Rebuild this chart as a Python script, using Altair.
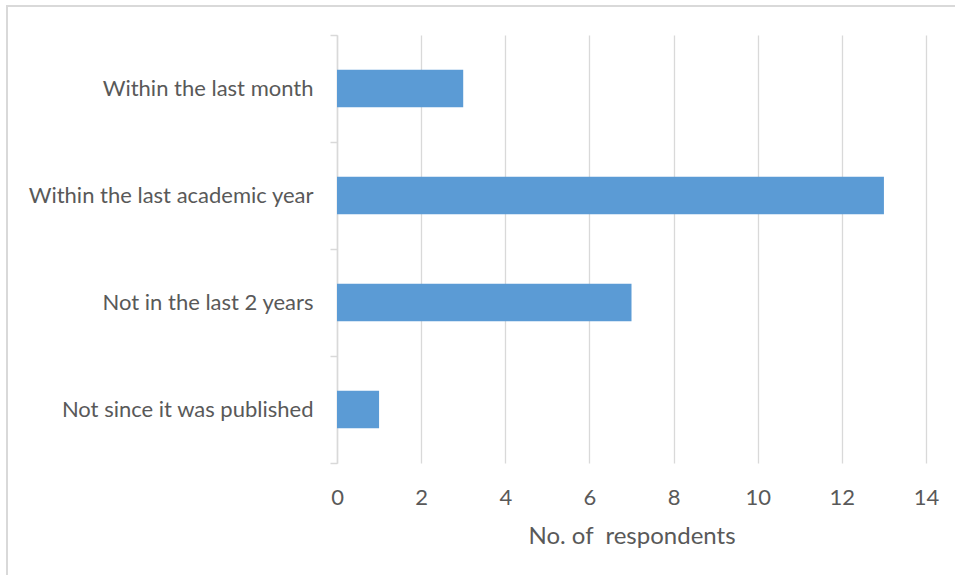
import altair as alt
import pandas as pd

# Survey responses: when the document was last consulted
categories = [
    "Within the last month",
    "Within the last academic year",
    "Not in the last 2 years",
    "Not since it was published",
]
respondents = [3, 13, 7, 1]
x_ticks = [0, 2, 4, 6, 8, 10, 12, 14]

df = pd.DataFrame({"when": categories, "count": respondents})

FONT = "Lato"
TEXT = "#595959"
GRID = "#d9d9d9"
BAR = "#5b9bd5"

W, H = 589, 428
PAD = {"left": 337, "top": 35, "right": 955 - 337 - W, "bottom": 575 - 35 - H}

bars = alt.Chart(df).mark_bar(color=BAR, height=alt.RelativeBandSize(0.35)).encode(
    y=alt.Y(
        "when:N",
        sort=categories,
        scale=alt.Scale(paddingInner=0, paddingOuter=0),
        axis=alt.Axis(
            title=None,
            tickBand="extent",
            tickSize=7,
            tickColor=GRID,
            tickWidth=1.5,
            domainColor=GRID,
            domainWidth=1.5,
            labelPadding=17,
            labelFont=FONT,
            labelFontSize=22,
            labelColor=TEXT,
            labelLimit=400,
            grid=False,
        ),
    ),
    x=alt.X(
        "count:Q",
        scale=alt.Scale(domain=[0, 14], nice=False),
        axis=alt.Axis(
            title="No. of\u00a0 respondents",
            values=x_ticks,
            domain=False,
            ticks=False,
            grid=True,
            gridColor=GRID,
            gridWidth=1.3,
            labelFlush=False,
            labelPadding=24,
            labelFont=FONT,
            labelFontSize=22,
            labelColor=TEXT,
            titleFont=FONT,
            titleFontSize=24,
            titleFontWeight="normal",
            titleColor=TEXT,
            titleBaseline="alphabetic",
            titleY=80,
        ),
    ),
)

# Outer frame of the chart
frame = alt.Chart(df).mark_rect(fill=None, stroke=GRID, strokeWidth=1.5).encode(
    x=alt.value(-330),
    x2=alt.value(W + 100),
    y=alt.value(-29),
    y2=alt.value(H + 200),
)

chart = alt.layer(frame, bars).properties(
    width=W,
    height=H,
    padding=PAD,
    autosize=alt.AutoSizeParams(type="none"),
    background="white",
).configure_view(stroke=None)

chart.save("out.html", embed_options={"renderer": "svg", "actions": False})
